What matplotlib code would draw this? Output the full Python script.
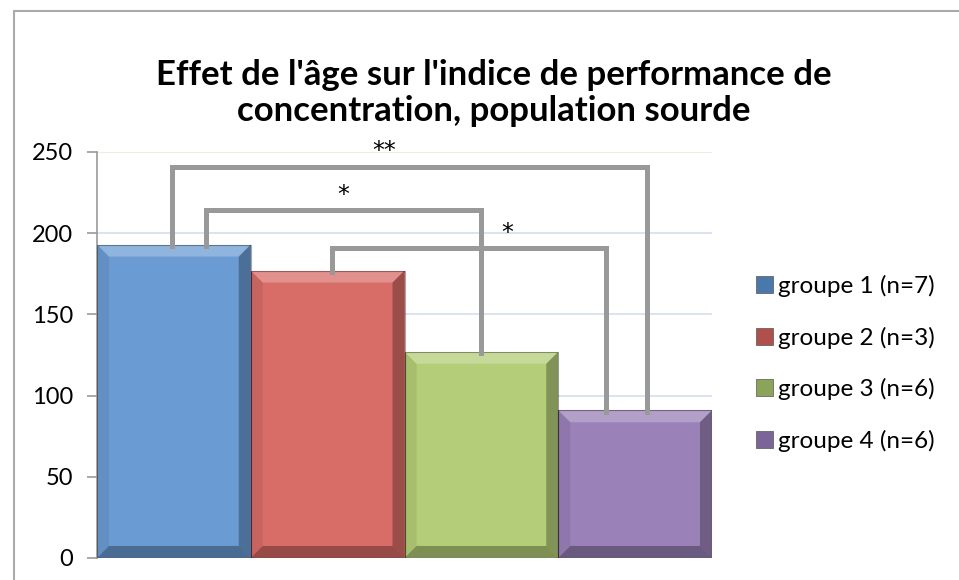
import numpy as np
import matplotlib.pyplot as plt
from matplotlib.patches import Polygon, Rectangle

plt.rcParams['font.family'] = ['Lato', 'DejaVu Sans']

# data
groups = ["groupe 1 (n=7)", "groupe 2 (n=3)", "groupe 3 (n=6)", "groupe 4 (n=6)"]
values = [193, 177, 127, 91]
colors = ["#6a9bd3", "#d86c67", "#b4cd78", "#9a81b8"]
legend_colors = ["#4a78aa", "#b0504c", "#8ca35a", "#7a6498"]

# significance brackets: (left bar, right bar, bracket height, label)
brk_left = [0, 0, 1]
brk_right = [3, 2, 3]
brk_height = [241, 214, 191]
brk_label = ["**", "*", "*"]
# small horizontal offsets of the legs from bar centres, and star positions
leg_off_left = [-0.01, 0.21, 0.03]
leg_off_right = [0.08, 0.0, -0.19]
star_x = [1.37, 1.10, 2.17]

title = "Effet de l'âge sur l'indice de performance de\nconcentration, population sourde"

fig = plt.figure(figsize=(9.59, 5.80), dpi=100)
ax = fig.add_axes([97 / 959, 1 - 558 / 580, (712 - 97) / 959, (558 - 152) / 580])

x = np.arange(len(values))
bars = ax.bar(x, values, width=1.0, color=colors, edgecolor="none", zorder=2)

# bevel look on each bar
bx = 0.078
by = 7.4
for b in bars:
    x0, y0 = b.get_x(), b.get_y()
    x1, y1 = x0 + b.get_width(), y0 + b.get_height()
    faces = [
        ([(x0, y1), (x1, y1), (x1 - bx, y1 - by), (x0 + bx, y1 - by)], "white", 0.25),
        ([(x0, y0), (x1, y0), (x1 - bx, y0 + by), (x0 + bx, y0 + by)], "black", 0.3),
        ([(x0, y0), (x0, y1), (x0 + bx, y1 - by), (x0 + bx, y0 + by)], "black", 0.07),
        ([(x1, y0), (x1, y1), (x1 - bx, y1 - by), (x1 - bx, y0 + by)], "black", 0.28),
    ]
    for pts, c, a in faces:
        ax.add_patch(Polygon(pts, closed=True, facecolor=c, alpha=a, edgecolor="none", zorder=3))
    ax.add_patch(Rectangle((x0, y0), b.get_width(), b.get_height(), fill=False,
                           edgecolor="black", alpha=0.35, lw=0.8, zorder=3))

# brackets
for i in range(len(brk_height)):
    lx = brk_left[i] + leg_off_left[i]
    rx = brk_right[i] + leg_off_right[i]
    h = brk_height[i]
    ax.plot([lx, lx, rx, rx], [values[brk_left[i]] - 1, h, h, values[brk_right[i]] - 1],
            color="#999999", lw=3.6, solid_joinstyle="miter", zorder=4, clip_on=False)
    ax.text(star_x[i], h + 2, brk_label[i], ha="center", va="bottom",
            fontsize=17, family="DejaVu Sans", color="black", zorder=5, clip_on=False)

ax.set_xlim(-0.5, 3.5)
ax.set_ylim(0, 250)
ax.set_yticks([0, 50, 100, 150, 200, 250])
ax.set_xticks([])
for yv in [50, 100, 150, 200]:
    ax.axhline(yv, color="#d5deee", lw=1.2, zorder=1)
ax.axhline(250, color="#ececdc", lw=1.2, zorder=1)

for s in ["top", "right", "bottom"]:
    ax.spines[s].set_visible(False)
ax.spines["left"].set_color("#999999")
ax.spines["left"].set_linewidth(1.2)
ax.tick_params(axis="y", colors="#999999", length=7, width=1.2, labelsize=17,
               labelcolor="black", pad=10)

fig.text(494 / 959, 1 - 93 / 580, title, ha="center", va="center", fontsize=25,
         fontweight="bold", linespacing=1.12)

handles = [Rectangle((0, 0), 1, 1, facecolor=c, edgecolor="#555555", lw=0.5) for c in legend_colors]
fig.legend(handles, groups, loc="upper left", bbox_to_anchor=(746 / 959, 1 - 265 / 580),
           frameon=False, fontsize=17.5, handlelength=0.7, handleheight=0.7,
           handletextpad=0.2, labelspacing=1.22, borderaxespad=0)

# outer chart border
fig.add_artist(Rectangle((14 / 959, -0.1), 1.2, 1 - 11 / 580 + 0.1, transform=fig.transFigure,
                         fill=False, edgecolor="#aaaaaa", lw=1.5))

fig.savefig("out.png", dpi=100)
